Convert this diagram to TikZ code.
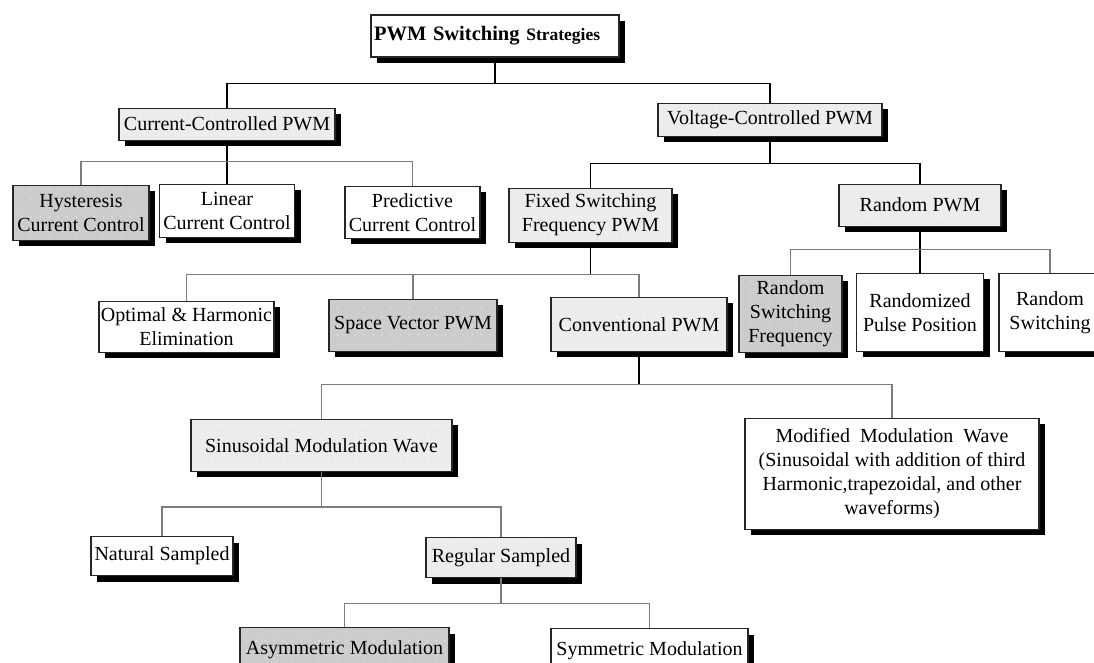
\documentclass[tikz,border=0pt]{standalone}
\usepackage{fontspec}
\setmainfont{Liberation Serif}
\usetikzlibrary{positioning,shadows,patterns}
\definecolor{lightfill}{RGB}{236,236,236}
\definecolor{darkfill}{RGB}{204,204,204}
\definecolor{legcolor}{RGB}{125,125,125}
\pgfdeclarepatternformonly{sparsedots}{\pgfpointorigin}{\pgfqpoint{9pt}{9pt}}{\pgfqpoint{9pt}{9pt}}{%
  \pgfpathcircle{\pgfqpoint{4.5pt}{4.5pt}}{0.7pt}\pgfusepath{fill}}
\tikzset{
	block/.style={
		rectangle,
		draw=black!85,
		line width=1.1pt,
		inner sep=2pt,
		align=center,
		font=\fontsize{20}{24}\selectfont,
		drop shadow={shadow xshift=6pt,shadow yshift=-6pt,fill=black,opacity=1},
	},
	whitebox/.style={
		block,
		fill=white,
	},
	greybox/.style={
		block,
		fill=lightfill,
		postaction={pattern=sparsedots,pattern color=white},
		postaction={draw=black!85,line width=1.1pt},
	},
	darkbox/.style={
		block,
		fill=darkfill,
		postaction={pattern=sparsedots,pattern color=white!90!darkfill},
		postaction={draw=black!85,line width=1.1pt},
	},
	stem/.style={
		line width=1.1pt,
		draw=black,
	},
	leg/.style={
		line width=1.1pt,
		draw=legcolor,
	}
}
\begin{document}
\begin{tikzpicture}[x=1pt,y=-1pt,node distance=40pt]
	\clip (0,0) rectangle (1094,662);
	\node [
	  whitebox,
	  text width=242pt,
	  align=left,
	  inner xsep=3pt,
	  minimum height=42pt
	] (title) at (495,36) {\bfseries\fontsize{20.5}{24}\selectfont PWM Switching {\fontsize{17.5}{20}\selectfont Strategies}};

	\node [
	  greybox,
	  below=50pt of title,
	  xshift=-268pt,
	  minimum width=216pt,
	  minimum height=32pt
	] (cc) {Current-Controlled PWM};
	\node [
	  greybox,
	  below=45pt of title,
	  xshift=275pt,
	  minimum width=224pt,
	  minimum height=33pt
	] (vc) {Voltage-Controlled PWM};

	\node [
	  darkbox,
	  below=44pt of cc,
	  xshift=-146pt,
	  minimum width=136pt,
	  minimum height=55pt
	] (hyst) {Hysteresis\\Current Control};
	\node [
	  whitebox,
	  below=43pt of cc,
	  minimum width=135pt,
	  minimum height=53pt
	] (lin) {Linear\\Current Control};
	\node [
	  whitebox,
	  below=45pt of cc,
	  xshift=185.5pt,
	  minimum width=135pt,
	  minimum height=52pt
	] (pred) {Predictive\\Current Control};

	\node [
	  greybox,
	  below=51pt of vc,
	  xshift=-179.5pt,
	  minimum width=163pt,
	  minimum height=54pt
	] (fixed) {Fixed Switching\\Frequency PWM};
	\node [
	  greybox,
	  below=47pt of vc,
	  xshift=150pt,
	  minimum width=162pt,
	  minimum height=42pt
	] (rand) {Random PWM};

	\node [
	  whitebox,
	  below=58pt of fixed,
	  xshift=-404pt,
	  minimum width=173pt,
	  minimum height=51pt
	] (opt) {Optimal \& Harmonic\\Elimination};
	\node [
	  darkbox,
	  below=56pt of fixed,
	  xshift=-177.5pt,
	  minimum width=168pt,
	  minimum height=52pt
	] (svp) {Space Vector PWM};
	\node [
	  greybox,
	  below=54pt of fixed,
	  xshift=48.5pt,
	  minimum width=176pt,
	  minimum height=54pt
	] (conv) {Conventional PWM};

	\node [
	  darkbox,
	  below=48pt of rand,
	  xshift=-129.5pt,
	  minimum width=103pt,
	  minimum height=77pt
	] (rsf) {Random\\Switching\\Frequency};
	\node [
	  whitebox,
	  below=46pt of rand,
	  minimum width=127pt,
	  minimum height=78pt
	] (rpp) {Randomized\\Pulse Position};
	\node [
	  whitebox,
	  below=46pt of rand,
	  xshift=130pt,
	  minimum width=102pt,
	  minimum height=78pt
	] (rsw) {Random\\Switching};

	\node [
	  greybox,
	  below=67pt of conv,
	  xshift=-317.5pt,
	  minimum width=261pt,
	  minimum height=52pt
	] (sin) {Sinusoidal Modulation Wave};
	\node [
	  whitebox,
	  below=66pt of conv,
	  xshift=253pt,
	  minimum width=294pt,
	  minimum height=111pt
	] (mod) {Modified\ \ Modulation\ \ Wave\\(Sinusoidal with addition of third\\Harmonic,trapezoidal, and other\\waveforms)};

	\node [
	  whitebox,
	  below=64pt of sin,
	  xshift=-159.5pt,
	  minimum width=142pt,
	  minimum height=39pt
	] (nat) {Natural Sampled};
	\node [
	  greybox,
	  below=65pt of sin,
	  xshift=179.5pt,
	  minimum width=150pt,
	  minimum height=40pt
	] (reg) {Regular Sampled};

	\node [
	  darkbox,
	  below=49pt of reg,
	  xshift=-156.5pt,
	  minimum width=209pt,
	  minimum height=44pt
	] (asym) {Asymmetric Modulation};
	\node [
	  whitebox,
	  below=50pt of reg,
	  xshift=148.5pt,
	  minimum width=197pt,
	  minimum height=44pt
	] (sym) {Symmetric Modulation};

	% tree lines
	\draw[stem] (title.south) -- ++(0,26) coordinate (t0);
	\draw[stem] (cc.north) |- (t0) -| (vc.north);

	\draw[stem] (cc.south) -- ++(0,21) coordinate (c0);
	\draw[stem] (c0) -- (lin.north);
	\draw[leg] (hyst.north) |- (c0) -| (pred.north);

	\draw[stem] (vc.south) -- ++(0,27) coordinate (v0);
	\draw[stem] (fixed.north) |- (v0) -| (rand.north);

	\draw[stem] (fixed.south) -- ++(0,32) coordinate (f0);
	\draw[leg] (opt.north) |- (f0) -| (conv.north);
	\draw[leg] (svp.north) -- (svp.north |- f0);

	\draw[stem] (rand.south) -- ++(0,23) coordinate (r0);
	\draw[stem] (r0) -- (rpp.north);
	\draw[leg] (rsf.north) |- (r0) -| (rsw.north);

	\draw[stem] (conv.south) -- ++(0,33) coordinate (k0);
	\draw[leg] (sin.north) |- (k0) -| (mod.north);

	\draw[leg] (sin.south) -- ++(0,35) coordinate (s0);
	\draw[leg] (nat.north) |- (s0) -| (reg.north);

	\draw[leg] (reg.south) -- ++(0,25) coordinate (g0);
	\draw[leg] (asym.north) |- (g0) -| (sym.north);
\end{tikzpicture}
\end{document}
